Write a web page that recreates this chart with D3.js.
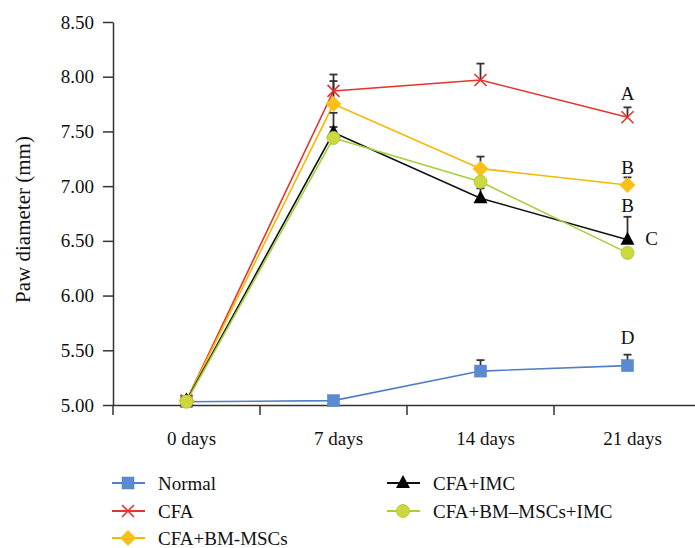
<!DOCTYPE html>
<html lang="en">
<head>
<meta charset="UTF-8">
<script src="https://d3js.org/d3.v7.min.js"></script>
<style>
    body { margin: 0; background: #fff; }
    svg text { font-family: "Liberation Serif", "DejaVu Serif", serif; fill: #111; }
</style>
</head>
<body>
<div id="chart"></div>
<script>
// data
var days = ["0 days", "7 days", "14 days", "21 days"];
var yTicks = [5.0, 5.5, 6.0, 6.5, 7.0, 7.5, 8.0, 8.5];

var normalVals = [5.03, 5.04, 5.31, 5.36];
var normalErr  = [0, 0, 0.10, 0.10];
var cfaVals    = [5.04, 7.87, 7.97, 7.63];
var cfaErr     = [0, 0.15, 0.15, 0.09];
var bmVals     = [5.04, 7.75, 7.16, 7.01];
var bmErr      = [0, 0.21, 0.11, 0.07];
var imcVals    = [5.04, 7.49, 6.89, 6.51];
var imcErr     = [0, 0.18, 0.09, 0.21];
var bmImcVals  = [5.03, 7.44, 7.04, 6.39];
var bmImcErr   = [0, 0.10, 0.02, 0.03];

var seriesNames = ["Normal", "CFA", "CFA+BM-MSCs", "CFA+IMC", "CFA+BM\u2013MSCs+IMC"];

// significance letters at 21 days
var letters   = ["A", "B", "B", "C", "D"];
var letterVal = [7.85, 7.17, 6.82, 6.52, 5.62];

var series = [
    { name: seriesNames[0], vals: normalVals, err: normalErr, color: "#4f7fc4", fill: "#5a8bd0", shape: "square" },
    { name: seriesNames[1], vals: cfaVals,    err: cfaErr,    color: "#e2352b", fill: "#e2352b", shape: "cross" },
    { name: seriesNames[2], vals: bmVals,     err: bmErr,     color: "#f6b800", fill: "#fbbf1a", shape: "diamond" },
    { name: seriesNames[3], vals: imcVals,    err: imcErr,    color: "#111111", fill: "#000000", shape: "triangle" },
    { name: seriesNames[4], vals: bmImcVals,  err: bmImcErr,  color: "#a5d13c", fill: "#ccd83c", shape: "circle" }
];

var W = 695, H = 548;
var margin = { left: 113, top: 22, right: -6, bottom: 143 };

var svg = d3.select("#chart").append("svg")
    .attr("width", W).attr("height", H);

var x = d3.scaleBand()
    .domain(days)
    .range([margin.left, W - margin.right]);

var y = d3.scaleLinear()
    .domain([5, 8.5])
    .range([H - margin.bottom, margin.top]);

var axisColor = "#333";

// y axis
var yAxis = svg.append("g")
    .attr("transform", "translate(" + margin.left + ",0)")
    .call(d3.axisLeft(y).tickValues(yTicks).tickFormat(d3.format(".2f"))
        .tickSize(10).tickPadding(9).tickSizeOuter(0));
yAxis.select(".domain").attr("stroke", axisColor).attr("stroke-width", 1.5);
yAxis.selectAll(".tick line").attr("stroke", axisColor).attr("stroke-width", 1.5);
yAxis.selectAll(".tick text")
    .style("font-size", "19px")
    .style("font-family", "Liberation Serif, serif")
    .attr("fill", "#111");

// x axis
var xAxis = svg.append("g")
    .attr("transform", "translate(0," + y(5) + ")")
    .call(d3.axisBottom(x).tickSize(0).tickPadding(27).tickSizeOuter(0));
xAxis.select(".domain").attr("stroke", axisColor).attr("stroke-width", 1.5);
xAxis.selectAll(".tick text")
    .attr("dx", 5)
    .style("font-size", "19px")
    .style("font-family", "Liberation Serif, serif")
    .attr("fill", "#111");
// boundary ticks between categories
xAxis.selectAll(".bound")
    .data(days)
    .enter().append("line")
    .attr("x1", function(d) { return x(d); })
    .attr("x2", function(d) { return x(d); })
    .attr("y1", 0).attr("y2", 10)
    .attr("stroke", axisColor).attr("stroke-width", 1.5);

// y axis title
svg.append("text")
    .attr("transform", "translate(30," + ((y(5) + y(8.5)) / 2 + 6) + ") rotate(-90)")
    .attr("text-anchor", "middle")
    .style("font-size", "21px")
    .text("Paw diameter (mm)");

var cx = function(i) { return x(days[i]) + x.bandwidth() / 2; };

function drawMarker(g, shape, fill, stroke, px, py) {
    if (shape === "square") {
        g.append("rect").attr("x", px - 6).attr("y", py - 6).attr("width", 12).attr("height", 12)
            .attr("fill", fill).attr("stroke", stroke).attr("stroke-width", 0.5);
    } else if (shape === "cross") {
        g.append("path").attr("d", "M" + (px - 6) + "," + (py - 6) + "L" + (px + 6) + "," + (py + 6) +
            "M" + (px - 6) + "," + (py + 6) + "L" + (px + 6) + "," + (py - 6))
            .attr("stroke", stroke).attr("stroke-width", 1.6).attr("fill", "none");
    } else if (shape === "diamond") {
        g.append("path").attr("d", "M" + px + "," + (py - 8) + "L" + (px + 8) + "," + py +
            "L" + px + "," + (py + 8) + "L" + (px - 8) + "," + py + "Z")
            .attr("fill", fill);
    } else if (shape === "triangle") {
        g.append("path").attr("d", "M" + px + "," + (py - 8) + "L" + (px + 7) + "," + (py + 5) + "L" + (px - 7) + "," + (py + 5) + "Z")
            .attr("fill", fill);
    } else if (shape === "circle") {
        g.append("circle").attr("cx", px).attr("cy", py).attr("r", 6.5)
            .attr("fill", fill).attr("stroke", stroke).attr("stroke-width", 1);
    }
}

// lines
var line = d3.line()
    .x(function(d, i) { return cx(i); })
    .y(function(d) { return y(d); });

var plot = svg.append("g");
series.forEach(function(s) {
    plot.append("path")
        .datum(s.vals)
        .attr("d", line)
        .attr("fill", "none")
        .attr("stroke", s.color)
        .attr("stroke-width", 1.6);
});

// error bars (upward)
series.forEach(function(s) {
    s.vals.forEach(function(v, i) {
        if (!s.err[i]) return;
        var eg = plot.append("g").attr("stroke", "#333").attr("stroke-width", 1.8);
        eg.append("line").attr("x1", cx(i)).attr("x2", cx(i)).attr("y1", y(v)).attr("y2", y(v + s.err[i]));
        eg.append("line").attr("x1", cx(i) - 4).attr("x2", cx(i) + 4)
            .attr("y1", y(v + s.err[i])).attr("y2", y(v + s.err[i]));
    });
});

// markers
series.forEach(function(s) {
    var mg = plot.append("g");
    s.vals.forEach(function(v, i) {
        drawMarker(mg, s.shape, s.fill, s.shape === "circle" ? "#a9d046" : s.color, cx(i), y(v));
    });
});

// letters
svg.selectAll(".letter")
    .data(letters)
    .enter().append("text")
    .attr("x", function(d, i) { return cx(3) + (d === "C" ? 24 : 0); })
    .attr("y", function(d, i) { return y(letterVal[i]); })
    .attr("dy", "0.35em")
    .attr("text-anchor", "middle")
    .style("font-size", "19px")
    .text(function(d) { return d; });

// legend
var legendPos = [
    { x: 112, y: 483 }, { x: 112, y: 511 }, { x: 112, y: 538 },
    { x: 387, y: 483 }, { x: 387, y: 511 }
];
series.forEach(function(s, i) {
    var p = legendPos[i];
    var lg = svg.append("g");
    lg.append("line").attr("x1", p.x).attr("x2", p.x + 33).attr("y1", p.y).attr("y2", p.y)
        .attr("stroke", s.color).attr("stroke-width", 1.8);
    drawMarker(lg, s.shape, s.fill, s.shape === "circle" ? "#a9d046" : s.color, p.x + 16, p.y);
    lg.append("text").attr("x", p.x + 46).attr("y", p.y).attr("dy", "0.35em")
        .style("font-size", "19px").text(s.name);
});
</script>
</body>
</html>
